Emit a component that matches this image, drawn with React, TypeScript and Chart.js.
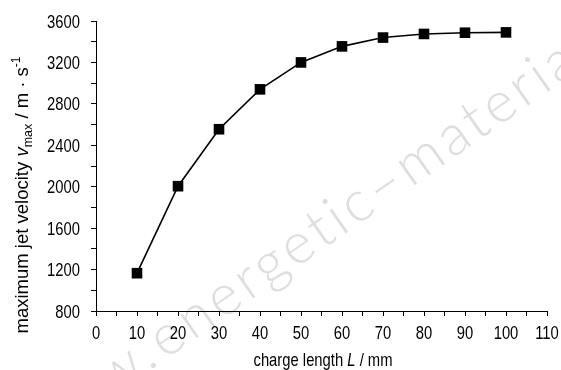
import React, { useEffect, useRef } from "react";
import { Chart, registerables } from "chart.js";

Chart.register(...registerables);

const chargeLength = [10, 20, 30, 40, 50, 60, 70, 80, 90, 100];
const jetVelocity = [1165, 2005, 2555, 2940, 3200, 3355, 3440, 3475, 3487, 3490];
const xTickLabels = [0, 10, 20, 30, 40, 50, 60, 70, 80, 90, 100, 110];
const yTickLabels = [800, 1200, 1600, 2000, 2400, 2800, 3200, 3600];

const FONT = "'Liberation Sans', Arial, sans-serif";
const SX = 0.8; // horizontal condensation to mimic a narrow face
const FS = 18.5;

type Seg = { t: string; size: number; style?: string; dy?: number };

function drawSegs(ctx: CanvasRenderingContext2D, segs: Seg[], cx: number, baseY: number, sx: number) {
  let total = 0;
  const widths: number[] = [];
  for (const s of segs) {
    ctx.font = `${s.style || "normal"} ${s.size}px ${FONT}`;
    const w = ctx.measureText(s.t).width;
    widths.push(w);
    total += w;
  }
  ctx.save();
  ctx.translate(cx, baseY);
  ctx.scale(sx, 1);
  let x = -total / 2;
  segs.forEach((s, i) => {
    ctx.font = `${s.style || "normal"} ${s.size}px ${FONT}`;
    ctx.fillText(s.t, x, s.dy || 0);
    x += widths[i];
  });
  ctx.restore();
}

const titlesPlugin = {
  id: "titles",
  beforeDraw(chart: any) {
    const ctx: CanvasRenderingContext2D = chart.ctx;
    ctx.save();
    ctx.translate(165, 360);
    ctx.rotate((-35 * Math.PI) / 180);
    ctx.font = `300 57px Lato, 'DejaVu Sans', sans-serif`;
    (ctx as any).letterSpacing = "4px";
    ctx.fillStyle = "#dedede";
    ctx.textBaseline = "alphabetic";
    ctx.textAlign = "right";
    ctx.fillText("www.", -2, 0);
    ctx.textAlign = "left";
    ctx.fillText("energetic\u2013materials", 0, 0);
    ctx.restore();
  },
  afterDraw(chart: any) {
    const ctx: CanvasRenderingContext2D = chart.ctx;
    const xs = chart.scales.x;
    const ys = chart.scales.y;
    ctx.save();
    ctx.fillStyle = "#000";
    ctx.textBaseline = "alphabetic";
    ctx.font = `normal ${FS}px ${FONT}`;
    for (const v of yTickLabels) {
      const py = ys.getPixelForValue(v);
      ctx.save();
      ctx.translate(ys.right - 16, py + 6.6);
      ctx.scale(SX, 1);
      ctx.textAlign = "right";
      ctx.fillText(String(v), 0, 0);
      ctx.restore();
    }
    for (const v of xTickLabels) {
      const px = xs.getPixelForValue(v);
      ctx.save();
      ctx.translate(px, xs.top + 28);
      ctx.scale(SX, 1);
      ctx.textAlign = "center";
      ctx.fillText(String(v), 0, 0);
      ctx.restore();
    }
    ctx.textAlign = "left";
    drawSegs(
      ctx,
      [
        { t: "charge length ", size: FS },
        { t: "L", size: FS, style: "italic" },
        { t: " / mm", size: FS },
      ],
      323,
      366,
      SX
    );
    ctx.translate(28, 195);
    ctx.rotate(-Math.PI / 2);
    drawSegs(
      ctx,
      [
        { t: "maximum jet velocity ", size: FS },
        { t: "v", size: FS, style: "italic" },
        { t: "max", size: 12.5, dy: 4 },
        { t: " / m \u00b7 s", size: FS },
        { t: "-1", size: 12, dy: -8 },
      ],
      0,
      0,
      1.0
    );
    ctx.restore();
  },
};

export default function App() {
  const ref = useRef<HTMLCanvasElement>(null);
  useEffect(() => {
    document.body.style.margin = "0";
    const canvas = ref.current!;
    const chart = new Chart(canvas, {
      type: "line",
      data: {
        datasets: [
          {
            data: chargeLength.map((x, i) => ({ x, y: jetVelocity[i] })),
            borderColor: "#000",
            backgroundColor: "#000",
            borderWidth: 1.6,
            pointStyle: "rect",
            pointRadius: 7.5,
            pointHoverRadius: 7.5,
            pointBorderWidth: 0,
            tension: 0,
          },
        ],
      },
      options: {
        animation: false,
        responsive: false,
        events: [],
        layout: { padding: { left: 0, right: 14, top: 21, bottom: 0 } },
        plugins: { legend: { display: false }, tooltip: { enabled: false } },
        scales: {
          x: {
            type: "linear",
            min: 0,
            max: 110,
            afterFit: (s: any) => {
              s.height = 59;
              s.paddingLeft = 0;
              s.paddingRight = 0;
            },
            ticks: {
              stepSize: 5,
              autoSkip: false,
              maxRotation: 0,
              padding: 0,
              font: { size: 1 },
              callback: () => "",
            },
            grid: { drawOnChartArea: false, drawTicks: true, tickLength: 5, tickColor: "#000", tickWidth: 1 },
            border: { color: "#000", width: 1 },
          },
          y: {
            type: "linear",
            min: 800,
            max: 3600,
            afterFit: (s: any) => {
              s.width = 96;
              s.paddingTop = 0;
              s.paddingBottom = 0;
            },
            ticks: {
              stepSize: 200,
              autoSkip: false,
              padding: 0,
              font: { size: 1 },
              callback: () => "",
            },
            grid: { drawOnChartArea: false, drawTicks: true, tickLength: 5, tickColor: "#000", tickWidth: 1 },
            border: { color: "#000", width: 1 },
          },
        },
      },
      plugins: [titlesPlugin],
    });
    return () => chart.destroy();
  }, []);
  return <canvas ref={ref} width={561} height={370} style={{ display: "block", width: 561, height: 370 }} />;
}
